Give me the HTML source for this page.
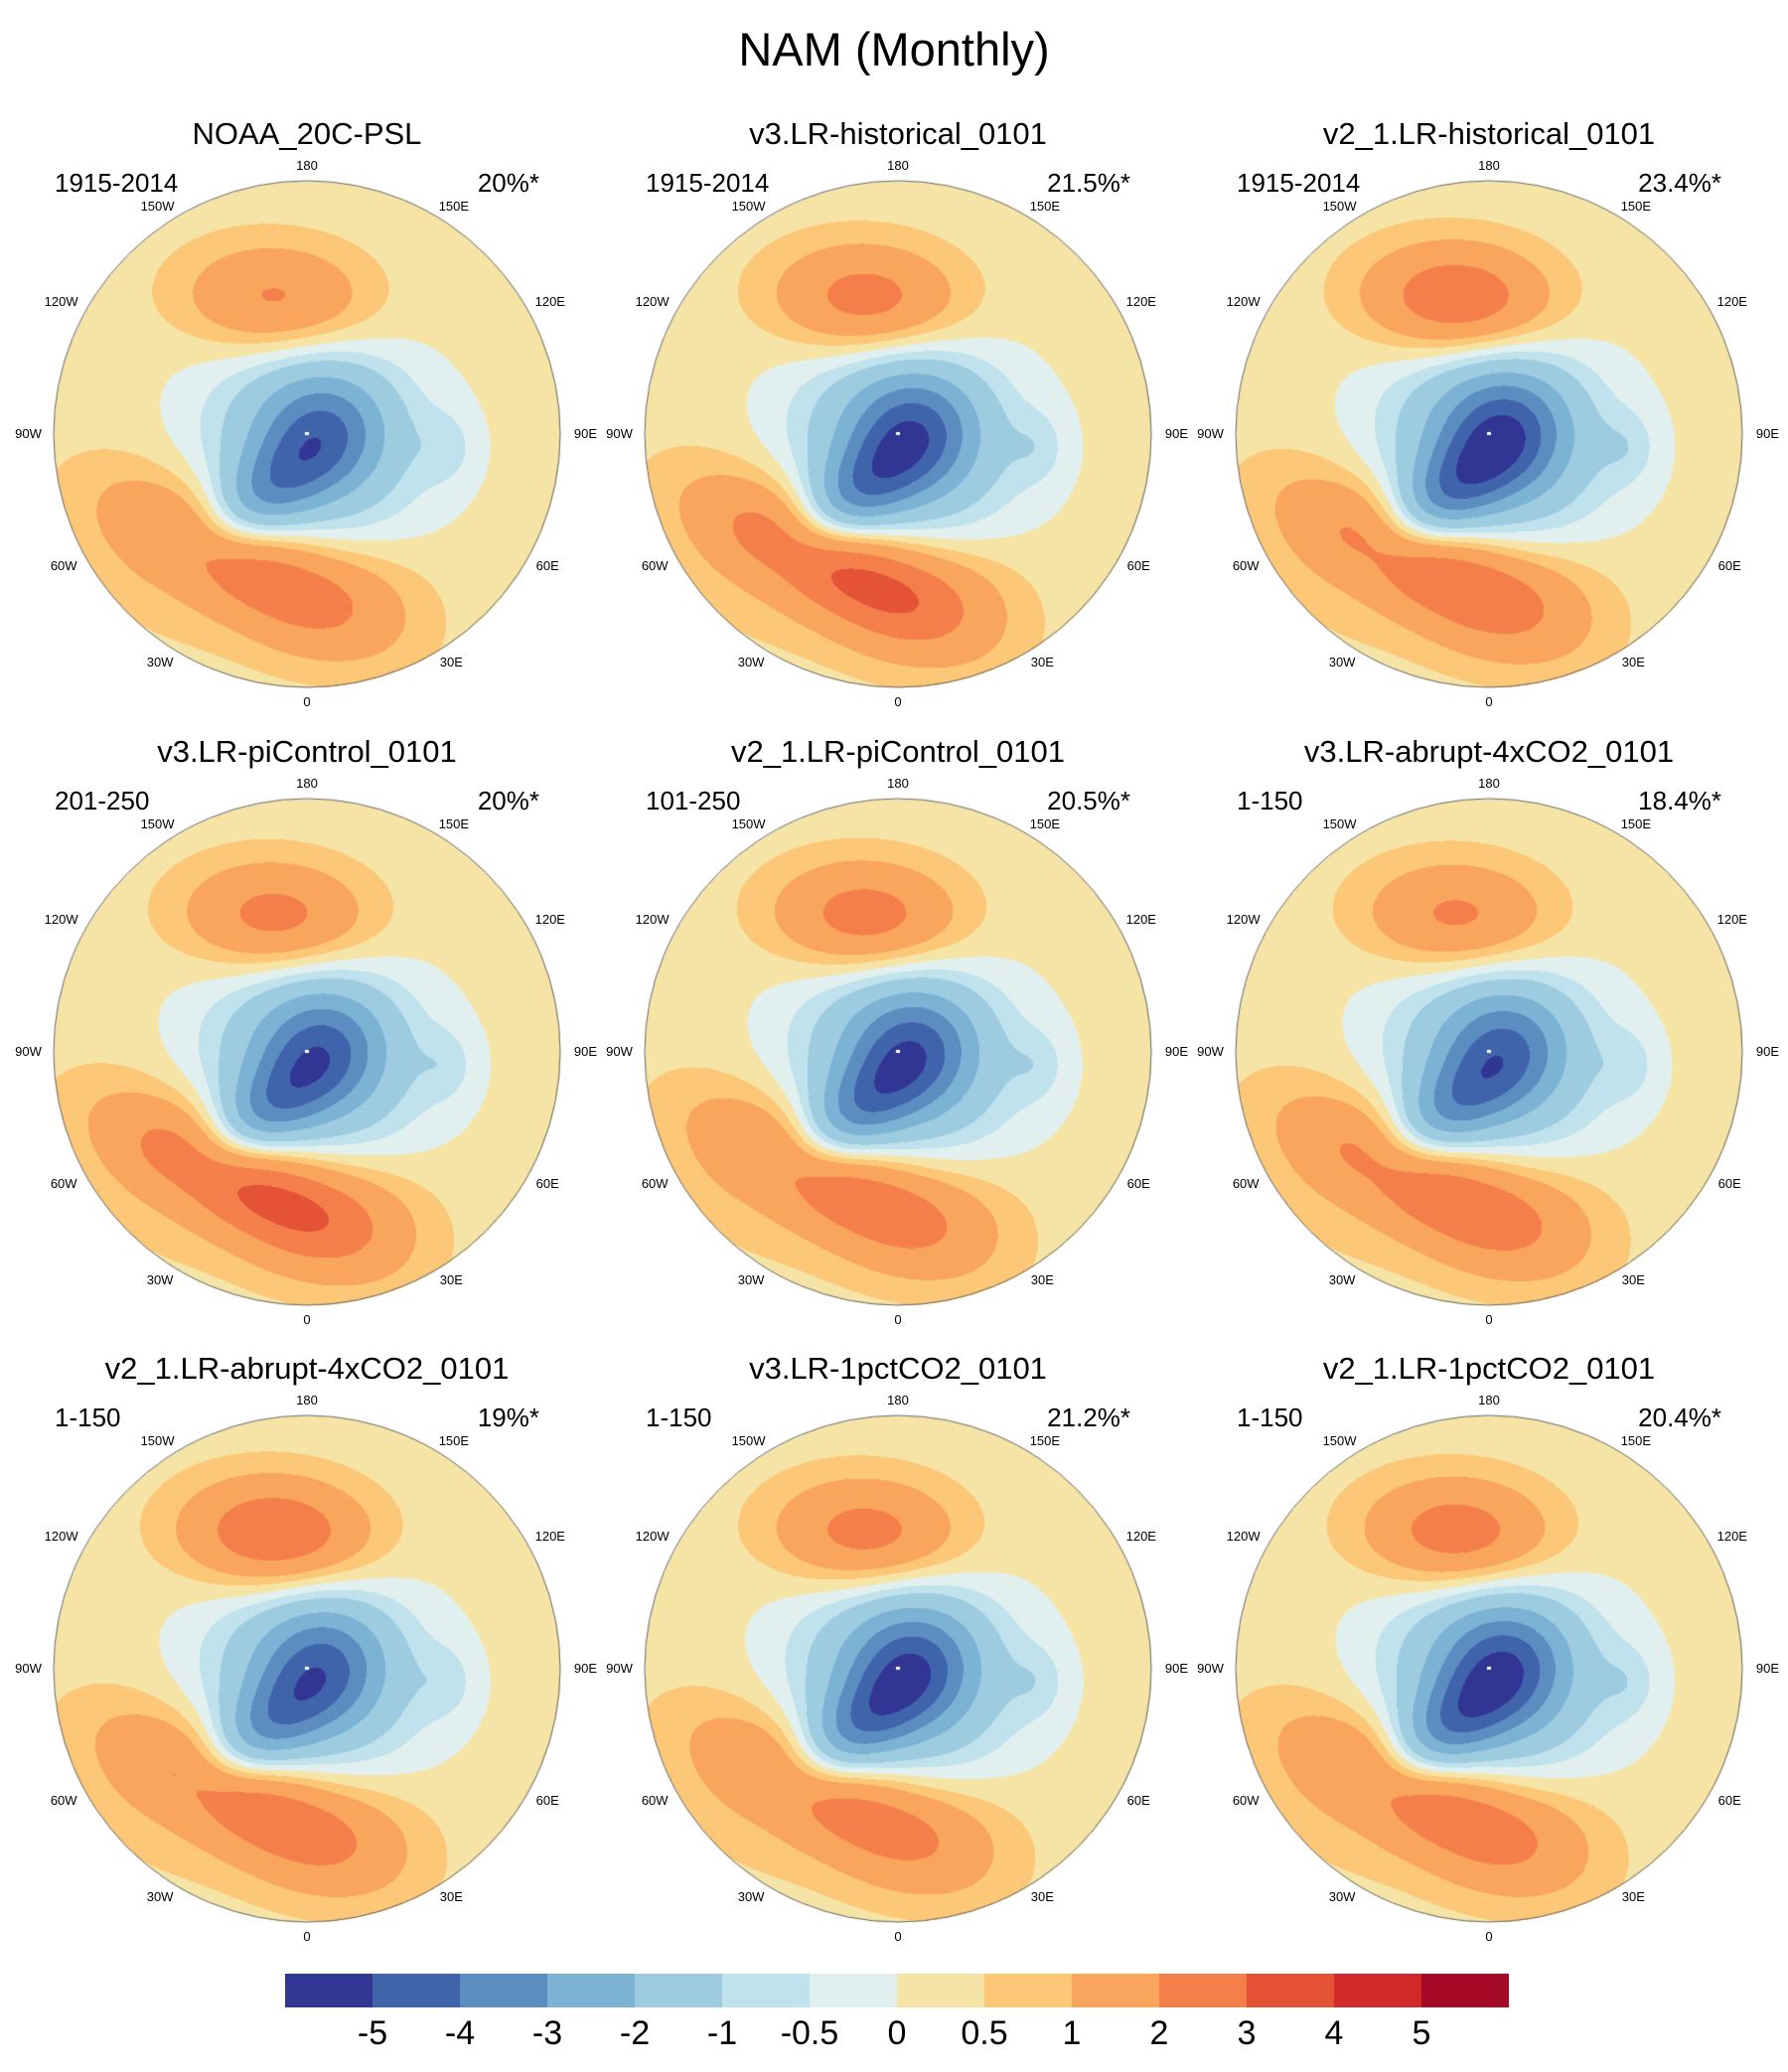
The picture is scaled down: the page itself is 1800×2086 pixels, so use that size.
<!DOCTYPE html>
<html><head><meta charset="utf-8">
<style>
body{margin:0;background:#fff;width:1800px;height:2086px;position:relative;overflow:hidden;font-family:"Liberation Sans",sans-serif;}
.t{position:absolute;white-space:nowrap;color:#000;}
canvas{position:absolute;}
</style></head>
<body>
<div class="t" style="left:0;width:1800px;text-align:center;top:22px;font-size:47px;">NAM (Monthly)</div>
<div id="root"></div>
<div id="cbar"></div>
<script>
// Chart data
const panelTitles=["NOAA_20C-PSL","v3.LR-historical_0101","v2_1.LR-historical_0101","v3.LR-piControl_0101","v2_1.LR-piControl_0101","v3.LR-abrupt-4xCO2_0101","v2_1.LR-abrupt-4xCO2_0101","v3.LR-1pctCO2_0101","v2_1.LR-1pctCO2_0101"];
const panelYears=["1915-2014","1915-2014","1915-2014","201-250","101-250","1-150","1-150","1-150","1-150"];
const panelPct=["20%*","21.5%*","23.4%*","20%*","20.5%*","18.4%*","19%*","21.2%*","20.4%*"];
const lowAmp=[-4.6,-5.1,-5.4,-4.8,-5.0,-4.6,-4.7,-5.2,-5.3];
const pacificAmp=[2.3,2.7,3.2,2.6,2.8,2.4,3.3,2.7,2.9];
const atlanticAmp=[2.7,3.4,3.0,3.4,2.8,2.9,2.8,2.6,2.8];
const levels=[-5,-4,-3,-2,-1,-0.5,0,0.5,1,2,3,4,5];
const colors=["#313695","#4064ab","#5b8dc0","#7cb2d4","#9dcce1","#c0e2ec","#e1f0ef","#f6e4a6","#fcc777","#f9a55b","#f47f4b","#e55337","#d2292a","#a50a27"];
const levelLabels=["-5","-4","-3","-2","-1","-0.5","0","0.5","1","2","3","4","5"];

const cxs=[309,904,1499], cys=[437,1059,1680], R=255;
const root=document.getElementById('root');
function g(x,y,cx,cy,sx,sy,a){const c=Math.cos(a),s=Math.sin(a);const dx=x-cx,dy=y-cy;const u=(dx*c+dy*s)/sx,v=(-dx*s+dy*c)/sy;return Math.exp(-0.5*(u*u+v*v));}
function field(i,x,y){
  const L=lowAmp[i],P=pacificAmp[i]*0.9,A=atlanticAmp[i]*0.85;
  let f=0;
  f+=L*0.5*g(x,y,0.06,-0.02,0.17,0.17,0);
  f+=L*0.5*g(x,y,-0.15,0.22,0.22,0.11,-0.7);
  f+=L*0.45*g(x,y,0.0,0.05,0.33,0.3,0);
  f+=P*g(x,y,-0.12,-0.53,0.25,0.15,0.05);
  f+=A*g(x,y,-0.28,0.5,0.36,0.14,0.45);
  f+=A*0.5*g(x,y,0.1,0.65,0.25,0.18,0);
  f+=0.5*g(x,y,-0.55,0.4,0.25,0.3,0);
  f+=-0.6*g(x,y,0.55,0.05,0.08,0.1,0);
  f+=0.25;
  return f;
}
function hex(c){return [parseInt(c.substr(1,2),16),parseInt(c.substr(3,2),16),parseInt(c.substr(5,2),16)];}
const rgb=colors.map(hex);
function idx(v){let k=0;while(k<levels.length&&v>=levels[k])k++;return k;}
const lab=[["180",0,-1.06],["150W",-0.59,-0.90],["150E",0.58,-0.90],["120W",-0.97,-0.52],["120E",0.96,-0.52],["90W",-1.10,0],["90E",1.10,0],["60W",-0.96,0.52],["60E",0.95,0.52],["30W",-0.58,0.90],["30E",0.57,0.90],["0",0,1.06]];
for(let i=0;i<9;i++){
  const cx=cxs[i%3], cy=cys[Math.floor(i/3)];
  let d=document.createElement('div');d.className='t';d.style.cssText=`left:${cx-300}px;width:600px;text-align:center;top:${cy-320}px;font-size:31px;`;d.textContent=panelTitles[i];
  
  
  root.appendChild(d);
  d=document.createElement('div');d.className='t';d.style.cssText=`left:${cx-254}px;top:${cy-268}px;font-size:26px;`;d.textContent=panelYears[i];
  
  
  root.appendChild(d);
  d=document.createElement('div');d.className='t';d.style.cssText=`left:${cx+34}px;width:200px;text-align:right;top:${cy-268}px;font-size:26px;`;d.textContent=panelPct[i];
  
  
  root.appendChild(d);
  const cv=document.createElement('canvas');cv.width=2*R+4;cv.height=2*R+4;cv.style.left=(cx-R-2)+'px';cv.style.top=(cy-R-2)+'px';
  
  
  root.appendChild(cv);
  const ctx=cv.getContext('2d');const im=ctx.createImageData(cv.width,cv.height);
  for(let py=0;py<cv.height;py++)for(let px=0;px<cv.width;px++){
    const x=(px-R-2)/R,y=(py-R-2)/R;if(x*x+y*y>1)continue;
    const c=rgb[idx(field(i,x,y))];const o=(py*cv.width+px)*4;im.data[o]=c[0];im.data[o+1]=c[1];im.data[o+2]=c[2];im.data[o+3]=255;
  }
  ctx.putImageData(im,0,0);
  ctx.strokeStyle='#666';ctx.lineWidth=1;ctx.beginPath();ctx.arc(R+2,R+2,R,0,Math.PI*2);ctx.stroke();
  ctx.fillStyle='#fff';ctx.fillRect(R,R,4,3);
  for(const [t,lx,ly] of lab){
    d=document.createElement('div');d.className='t';d.style.cssText=`left:${cx+lx*R-30}px;width:60px;text-align:center;top:${cy+ly*R-8}px;font-size:13px;`;d.textContent=t;
    
    
    root.appendChild(d);
  }
}
const cb=document.getElementById('cbar');
const x0=287,w=88;
for(let k=0;k<colors.length;k++){
  const b=document.createElement('div');b.style.cssText=`position:absolute;left:${x0+k*w}px;top:1987px;width:${w}px;height:34px;background:${colors[k]};`;
  
  
  cb.appendChild(b);
}
for(let k=0;k<levelLabels.length;k++){
  const t=document.createElement('div');t.className='t';t.style.cssText=`left:${x0+(k+1)*w-50}px;width:100px;text-align:center;top:2028px;font-size:34px;`;t.textContent=levelLabels[k];
  
  
  cb.appendChild(t);
}
</script>
</body></html>
